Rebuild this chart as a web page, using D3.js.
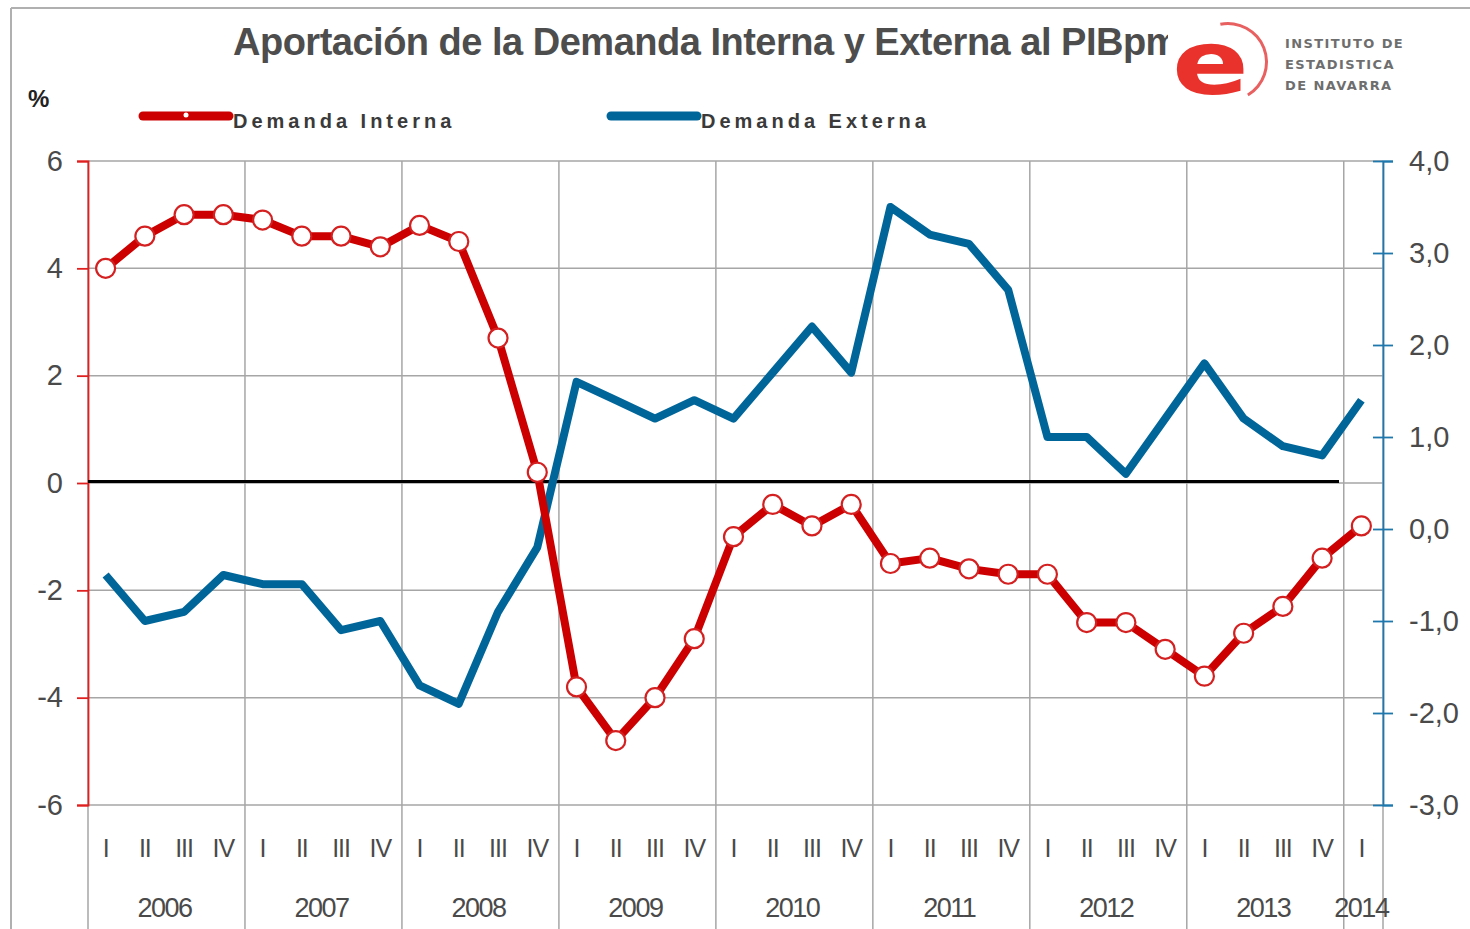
<!DOCTYPE html>
<html>
<head>
<meta charset="utf-8">
<script src="https://cdn.jsdelivr.net/npm/d3@7"></script>
<style>
  body { margin: 0; background: #fff; }
  svg { display: block; font-family: "Liberation Sans", Arial, sans-serif; }
</style>
</head>
<body>
<svg id="chart" width="1470" height="929"></svg>
<script>
// data
const years = ["2006", "2007", "2008", "2009", "2010", "2011", "2012", "2013", "2014"];
const quarterNames = ["I", "II", "III", "IV"];
const interna = [4.0, 4.6, 5.0, 5.0, 4.9, 4.6, 4.6, 4.4, 4.8, 4.5, 2.7, 0.2,
                 -3.8, -4.8, -4.0, -2.9, -1.0, -0.4, -0.8, -0.4, -1.5, -1.4, -1.6, -1.7,
                 -1.7, -2.6, -2.6, -3.1, -3.6, -2.8, -2.3, -1.4, -0.8];
const externa = [-0.5, -1.0, -0.9, -0.5, -0.6, -0.6, -1.1, -1.0, -1.7, -1.9, -0.9, -0.2,
                 1.6, 1.4, 1.2, 1.4, 1.2, 1.7, 2.2, 1.7, 3.5, 3.2, 3.1, 2.6,
                 1.0, 1.0, 0.6, 1.2, 1.8, 1.2, 0.9, 0.8, 1.4];
const leftTicks = [-6, -4, -2, 0, 2, 4, 6];
const rightTicks = [-3, -2, -1, 0, 1, 2, 3, 4];

const red = "#cc0000";
const blue = "#00669a";
const grid = "#a6a6a6";
const textCol = "#4a4a4a";

const svg = d3.select("#chart");
const plotLeft = 88, plotRight = 1383, plotTop = 161, plotBottom = 805;

const idx = d3.range(interna.length);
const x = d3.scaleBand().domain(idx).range([plotLeft, plotRight]);
const cx = i => x(i) + x.bandwidth() / 2 - 2;
const yL = d3.scaleLinear().domain([-6, 6]).range([plotBottom, plotTop]);
const yR = d3.scaleLinear().domain([-3, 4]).range([plotBottom, plotTop]);

// frame of the picture
svg.append("line").attr("x1", 11).attr("x2", 11).attr("y1", 8).attr("y2", 929)
    .attr("stroke", "#b0b0b0").attr("stroke-width", 2);
svg.append("line").attr("x1", 11).attr("x2", 1470).attr("y1", 8).attr("y2", 8)
    .attr("stroke", "#b0b0b0").attr("stroke-width", 2);

// horizontal grid
svg.append("g").selectAll("line").data(leftTicks).join("line")
    .attr("x1", plotLeft).attr("x2", plotRight)
    .attr("y1", d => yL(d)).attr("y2", d => yL(d))
    .attr("stroke", grid).attr("stroke-width", 1.5);

// year separators (run down through the labels)
const sepIdx = d3.range(0, interna.length + 1, 4);
svg.append("g").selectAll("line").data(sepIdx.concat([interna.length])).join("line")
    .attr("x1", d => d < interna.length ? x(d) : plotRight)
    .attr("x2", d => d < interna.length ? x(d) : plotRight)
    .attr("y1", plotTop).attr("y2", 929)
    .attr("stroke", grid).attr("stroke-width", 1.5);

// left axis
const axL = svg.append("g").attr("transform", `translate(${plotLeft},0)`)
    .call(d3.axisLeft(yL).tickValues(leftTicks).tickSize(11).tickPadding(14)
        .tickFormat(d => String(d)));
axL.select(".domain").attr("stroke", "#e02020").attr("stroke-width", 1.8);
axL.selectAll(".tick line").attr("stroke", "#e02020").attr("stroke-width", 1.8);
axL.selectAll(".tick text").attr("font-size", 29).attr("fill", textCol).attr("font-family", "Liberation Sans, Arial");

// right axis
const axR = svg.append("g").attr("transform", `translate(${plotRight},0)`)
    .call(d3.axisRight(yR).tickValues(rightTicks).tickSize(10).tickPadding(16)
        .tickFormat(d => d.toFixed(1).replace(".", ",")));
axR.select(".domain").attr("stroke", "#1f78ad").attr("stroke-width", 1.8);
axR.selectAll(".tick line").attr("stroke", "#1f78ad").attr("stroke-width", 1.8).attr("x1", -10);
axR.selectAll(".tick text").attr("font-size", 29).attr("fill", textCol).attr("font-family", "Liberation Sans, Arial");

// zero line
svg.append("line").attr("x1", plotLeft).attr("x2", 1339)
    .attr("y1", yL(0) - 1.5).attr("y2", yL(0) - 1.5)
    .attr("stroke", "#000").attr("stroke-width", 3);

// quarter labels
svg.append("g").selectAll("text").data(idx).join("text")
    .attr("x", d => cx(d)).attr("y", 857)
    .attr("text-anchor", "middle").attr("font-size", 25).attr("fill", textCol)
    .attr("letter-spacing", -1)
    .text(d => quarterNames[d % 4]);

// year labels
svg.append("g").selectAll("text").data(years).join("text")
    .attr("x", (d, i) => {
        const a = i * 4, b = Math.min(a + 3, interna.length - 1);
        return (cx(a) + cx(b)) / 2;
    })
    .attr("y", 917).attr("text-anchor", "middle").attr("font-size", 27)
    .attr("fill", textCol).attr("letter-spacing", -1.5)
    .text(d => d);

// series
const lineL = d3.line().x((d, i) => cx(i)).y(d => yL(d));
const lineR = d3.line().x((d, i) => cx(i)).y(d => yR(d));

svg.append("path").datum(externa).attr("d", lineR)
    .attr("fill", "none").attr("stroke", blue).attr("stroke-width", 8)
    .attr("stroke-linejoin", "round");

svg.append("path").datum(interna).attr("d", lineL)
    .attr("fill", "none").attr("stroke", red).attr("stroke-width", 8)
    .attr("stroke-linejoin", "round");

svg.append("g").selectAll("circle").data(interna).join("circle")
    .attr("cx", (d, i) => cx(i)).attr("cy", d => yL(d)).attr("r", 9.5)
    .attr("fill", "#fff").attr("stroke", "#d42020").attr("stroke-width", 2.2);

// "%" label
svg.append("text").attr("x", 28).attr("y", 107).attr("font-size", 24)
    .attr("font-weight", "bold").attr("fill", "#222").text("%");

// legend
const legend = [
    { name: "Demanda Interna", color: red, x0: 143, marker: true },
    { name: "Demanda Externa", color: blue, x0: 611, marker: false }
];
const lg = svg.append("g").selectAll("g").data(legend).join("g");
lg.append("line").attr("x1", d => d.x0).attr("x2", d => d.x0 + 86)
    .attr("y1", 116).attr("y2", 116)
    .attr("stroke", d => d.color).attr("stroke-width", 9).attr("stroke-linecap", "round");
lg.filter(d => d.marker).append("circle").attr("cx", d => d.x0 + 43).attr("cy", 115)
    .attr("r", 2.5).attr("fill", "#fff");
lg.append("text").attr("x", d => d.x0 + 90).attr("y", 128)
    .attr("font-size", 20).attr("font-weight", "bold").attr("letter-spacing", 4)
    .attr("fill", "#3a3a3a").text(d => d.name);

// title
svg.append("text").attr("x", 233).attr("y", 55)
    .attr("font-size", 38).attr("font-weight", "bold").attr("fill", "#4d4d4d")
    .attr("letter-spacing", -0.5)
    .text("Aportación de la Demanda Interna y Externa al PIBpm");

// logo
const logo = svg.append("g");
logo.append("rect").attr("x", 1168).attr("y", 22).attr("width", 240).attr("height", 78).attr("fill", "#fff");
logo.append("path")
    .attr("d", d3.arc()({ innerRadius: 37, outerRadius: 40, startAngle: -0.2, endAngle: 2.6 }))
    .attr("transform", "translate(1228,62)").attr("fill", "#e86060");
logo.append("text").attr("x", 1172).attr("y", 94).attr("font-size", 108)
    .attr("font-weight", "bold").attr("fill", "#e8322b").attr("font-family", "DejaVu Sans, sans-serif")
    .attr("transform", "translate(1172,94) scale(1.05,0.82) translate(-1172,-94)")
    .text("e");
const logoText = ["INSTITUTO DE", "ESTADISTICA", "DE  NAVARRA"];
logo.selectAll("text.l").data(logoText).join("text").attr("class", "l")
    .attr("x", 1285).attr("y", (d, i) => 48 + i * 21)
    .attr("font-size", 13).attr("font-weight", "bold").attr("letter-spacing", 1.4)
    .attr("fill", "#6e6e6e").attr("font-family", "DejaVu Sans, sans-serif")
    .text(d => d);
</script>
</body>
</html>
